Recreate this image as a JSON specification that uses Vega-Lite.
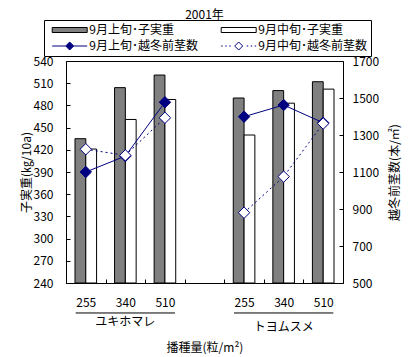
{
  "$schema": "https://vega.github.io/schema/vega-lite/v6.json",
  "width": 277,
  "height": 222,
  "autosize": {"type": "none"},
  "padding": {"left": 66, "top": 61, "right": 73, "bottom": 74},
  "title": {"text": "2001年", "fontSize": 12, "fontWeight": "normal", "font": "Noto Sans CJK JP", "color": "black", "offset": -2, "anchor": "middle"},
  "datasets": {
    "main": [
      {"variety": "ユキホマレ", "cat": "ユキホマレ|255", "period": "上旬", "weight": 435, "stems": 1100},
      {"variety": "ユキホマレ", "cat": "ユキホマレ|255", "period": "中旬", "weight": 421, "stems": 1223},
      {"variety": "ユキホマレ", "cat": "ユキホマレ|340", "period": "上旬", "weight": 504, "stems": 1186},
      {"variety": "ユキホマレ", "cat": "ユキホマレ|340", "period": "中旬", "weight": 461, "stems": 1190},
      {"variety": "ユキホマレ", "cat": "ユキホマレ|510", "period": "上旬", "weight": 521, "stems": 1477},
      {"variety": "ユキホマレ", "cat": "ユキホマレ|510", "period": "中旬", "weight": 488, "stems": 1393},
      {"variety": "トヨムスメ", "cat": "トヨムスメ|255", "period": "上旬", "weight": 490, "stems": 1399},
      {"variety": "トヨムスメ", "cat": "トヨムスメ|255", "period": "中旬", "weight": 440, "stems": 880},
      {"variety": "トヨムスメ", "cat": "トヨムスメ|340", "period": "上旬", "weight": 500, "stems": 1462},
      {"variety": "トヨムスメ", "cat": "トヨムスメ|340", "period": "中旬", "weight": 483, "stems": 1075},
      {"variety": "トヨムスメ", "cat": "トヨムスメ|510", "period": "上旬", "weight": 512, "stems": 1366},
      {"variety": "トヨムスメ", "cat": "トヨムスメ|510", "period": "中旬", "weight": 502, "stems": 1362}
    ],
    "series": [
      {"series": "9月上旬･子実重"},
      {"series": "9月中旬･子実重"},
      {"series": "9月上旬･越冬前茎数"},
      {"series": "9月中旬･越冬前茎数"}
    ],
    "groups": [
      {"variety": "ユキホマレ", "start": "ユキホマレ|255", "mid": "ユキホマレ|340", "end": "ユキホマレ|510"},
      {"variety": "トヨムスメ", "start": "トヨムスメ|255", "mid": "トヨムスメ|340", "end": "トヨムスメ|510"}
    ]
  },
  "layer": [
    {
      "layer": [
        {
          "data": {"name": "main"},
          "mark": {"type": "bar", "stroke": "black", "strokeWidth": 1, "clip": true},
          "encoding": {
            "x": {
              "field": "cat", "type": "nominal", "sort": null,
              "scale": {"domain": ["ユキホマレ|255", "ユキホマレ|340", "ユキホマレ|510", "gap|", "トヨムスメ|255", "トヨムスメ|340", "トヨムスメ|510"], "paddingInner": 0, "paddingOuter": 0},
              "axis": {"title": "播種量(粒/m²)", "labelExpr": "split(datum.value,'|')[1]", "labelAngle": 0, "tickSize": -4, "tickBand": "extent", "labelPadding": 18, "titlePadding": 34}
            },
            "xOffset": {"field": "period", "type": "nominal", "sort": ["上旬", "中旬"], "scale": {"domain": ["上旬", "中旬"], "paddingInner": 0, "paddingOuter": 0.833}},
            "y": {
              "field": "weight", "type": "quantitative",
              "scale": {"domain": [240, 540], "zero": false, "nice": false},
              "axis": {"title": "子実重(㎏/10a)", "values": [240, 270, 300, 330, 360, 390, 420, 450, 480, 510, 540], "labelOverlap": false, "tickSize": -4, "labelPadding": 17, "titlePadding": 0}
            },
            "y2": {"datum": 240},
            "fill": {"condition": {"test": "datum.period === '上旬'", "value": "#808080"}, "value": "white"}
          }
        },
        {
          "data": {"name": "series"},
          "mark": {"type": "point", "filled": true, "clip": true, "strokeWidth": 1, "opacity": 1},
          "encoding": {
            "y": {"datum": -1000, "type": "quantitative", "scale": {"domain": [240, 540], "zero": false, "nice": false},
              "axis": {"title": "子実重(㎏/10a)", "values": [240, 270, 300, 330, 360, 390, 420, 450, 480, 510, 540], "labelOverlap": false, "tickSize": -4, "labelPadding": 17, "titlePadding": 0}},
            "shape": {
              "field": "series", "type": "nominal", "sort": null,
              "scale": {"domain": ["9月上旬･子実重", "9月中旬･子実重", "9月上旬･越冬前茎数", "9月中旬･越冬前茎数"],
                "range": ["M-3.5,-0.5H3.5V0.5H-3.5Z", "M-3.5,-0.5H3.5V0.5H-3.5Z", "M-3.5,0H-0.8M0.8,0H3.5M0,-0.8L0.8,0L0,0.8L-0.8,0Z", "M-3.5,0H-3.2M-2.7,0H-2.4M-1.9,0H-1.6M1.6,0H1.9M2.4,0H2.7M3.2,0H3.5M0,-0.8L0.8,0L0,0.8L-0.8,0Z"]},
              "legend": {"title": null, "orient": "none", "legendX": -22, "legendY": -41, "columns": 2, "direction": "horizontal"}
            },
            "fill": {
              "field": "series", "type": "nominal", "sort": null,
              "scale": {"domain": ["9月上旬･子実重", "9月中旬･子実重", "9月上旬･越冬前茎数", "9月中旬･越冬前茎数"], "range": ["#808080", "white", "#000080", "white"]},
              "legend": {"title": null, "orient": "none", "legendX": -22, "legendY": -41, "columns": 2, "direction": "horizontal"}
            },
            "stroke": {
              "field": "series", "type": "nominal", "sort": null,
              "scale": {"domain": ["9月上旬･子実重", "9月中旬･子実重", "9月上旬･越冬前茎数", "9月中旬･越冬前茎数"], "range": ["black", "black", "#000080", "#000080"]},
              "legend": {"title": null, "orient": "none", "legendX": -22, "legendY": -41, "columns": 2, "direction": "horizontal"}
            }
          }
        },
        {
          "data": {"name": "groups"},
          "mark": {"type": "rule", "stroke": "black", "strokeWidth": 1, "clip": false},
          "encoding": {
            "x": {"field": "start", "type": "nominal", "sort": null, "bandPosition": 0.245},
            "x2": {"field": "end", "bandPosition": 0.755},
            "y": {"datum": 199.5, "type": "quantitative", "scale": {"domain": [240, 540], "zero": false, "nice": false},
              "axis": {"title": "子実重(㎏/10a)", "values": [240, 270, 300, 330, 360, 390, 420, 450, 480, 510, 540], "labelOverlap": false, "tickSize": -4, "labelPadding": 17, "titlePadding": 0}}
          }
        },
        {
          "data": {"name": "groups"},
          "transform": [{"filter": "datum.variety === 'ユキホマレ'"}],
          "mark": {"type": "text", "baseline": "middle", "fontSize": 12, "color": "black", "clip": false},
          "encoding": {
            "x": {"field": "mid", "type": "nominal", "sort": null},
            "y": {"datum": 187, "type": "quantitative", "scale": {"domain": [240, 540], "zero": false, "nice": false},
              "axis": {"title": "子実重(㎏/10a)", "values": [240, 270, 300, 330, 360, 390, 420, 450, 480, 510, 540], "labelOverlap": false, "tickSize": -4, "labelPadding": 17, "titlePadding": 0}},
            "text": {"field": "variety"}
          }
        },
        {
          "data": {"name": "groups"},
          "transform": [{"filter": "datum.variety === 'トヨムスメ'"}],
          "mark": {"type": "text", "baseline": "middle", "fontSize": 12, "color": "black", "clip": false},
          "encoding": {
            "x": {"field": "mid", "type": "nominal", "sort": null},
            "y": {"datum": 180.5, "type": "quantitative", "scale": {"domain": [240, 540], "zero": false, "nice": false},
              "axis": {"title": "子実重(㎏/10a)", "values": [240, 270, 300, 330, 360, 390, 420, 450, 480, 510, 540], "labelOverlap": false, "tickSize": -4, "labelPadding": 17, "titlePadding": 0}},
            "text": {"field": "variety"}
          }
        }
      ]
    },
    {
      "layer": [
        {
          "data": {"name": "main"},
          "transform": [{"filter": "datum.period === '上旬'"}],
          "mark": {"type": "line", "stroke": "#000080", "strokeWidth": 1},
          "encoding": {
            "x": {"field": "cat", "type": "nominal", "sort": null},
            "y": {
              "field": "stems", "type": "quantitative",
              "scale": {"domain": [500, 1700], "zero": false, "nice": false},
              "axis": {"orient": "right", "title": "越冬前茎数(本/㎡)", "values": [500, 700, 900, 1100, 1300, 1500, 1700], "format": "d", "labelOverlap": false, "tickSize": -4, "labelPadding": 13, "titlePadding": 23, "titleAngle": 270}
            },
            "detail": {"field": "variety"}
          }
        },
        {
          "data": {"name": "main"},
          "transform": [{"filter": "datum.period === '上旬'"}],
          "mark": {"type": "point", "shape": "diamond", "size": 130, "filled": true, "fill": "#000080", "stroke": "#000080", "strokeWidth": 1, "opacity": 1},
          "encoding": {
            "x": {"field": "cat", "type": "nominal", "sort": null},
            "y": {"field": "stems", "type": "quantitative", "scale": {"domain": [500, 1700], "zero": false, "nice": false},
              "axis": {"orient": "right", "title": "越冬前茎数(本/㎡)", "values": [500, 700, 900, 1100, 1300, 1500, 1700], "format": "d", "labelOverlap": false, "tickSize": -4, "labelPadding": 13, "titlePadding": 23, "titleAngle": 270}}
          }
        },
        {
          "data": {"name": "main"},
          "transform": [{"filter": "datum.period === '中旬'"}],
          "mark": {"type": "line", "stroke": "#000080", "strokeWidth": 1, "strokeDash": [2, 3]},
          "encoding": {
            "x": {"field": "cat", "type": "nominal", "sort": null},
            "y": {"field": "stems", "type": "quantitative", "scale": {"domain": [500, 1700], "zero": false, "nice": false},
              "axis": {"orient": "right", "title": "越冬前茎数(本/㎡)", "values": [500, 700, 900, 1100, 1300, 1500, 1700], "format": "d", "labelOverlap": false, "tickSize": -4, "labelPadding": 13, "titlePadding": 23, "titleAngle": 270}},
            "detail": {"field": "variety"}
          }
        },
        {
          "data": {"name": "main"},
          "transform": [{"filter": "datum.period === '中旬'"}],
          "mark": {"type": "point", "shape": "diamond", "size": 130, "filled": true, "fill": "white", "stroke": "#000080", "strokeWidth": 1, "opacity": 1},
          "encoding": {
            "x": {"field": "cat", "type": "nominal", "sort": null},
            "y": {"field": "stems", "type": "quantitative", "scale": {"domain": [500, 1700], "zero": false, "nice": false},
              "axis": {"orient": "right", "title": "越冬前茎数(本/㎡)", "values": [500, 700, 900, 1100, 1300, 1500, 1700], "format": "d", "labelOverlap": false, "tickSize": -4, "labelPadding": 13, "titlePadding": 23, "titleAngle": 270}}
          }
        }
      ]
    }
  ],
  "resolve": {"scale": {"y": "independent"}},
  "config": {
    "font": "Noto Sans CJK JP",
    "view": {"stroke": "black", "strokeWidth": 1},
    "axis": {"labelFontSize": 12, "titleFontSize": 12, "titleFontWeight": "normal", "labelColor": "black", "titleColor": "black", "tickColor": "black", "domain": false, "grid": false, "labelOverlap": false},
    "legend": {"padding": 4, "strokeColor": "black", "fillColor": "white", "symbolSize": 100, "symbolStrokeWidth": 1, "symbolOffset": 15.7, "labelOffset": 13.6, "rowPadding": 4, "columnPadding": 19, "labelFontSize": 12, "labelColor": "black", "labelLimit": 0, "cornerRadius": 0}
  }
}
